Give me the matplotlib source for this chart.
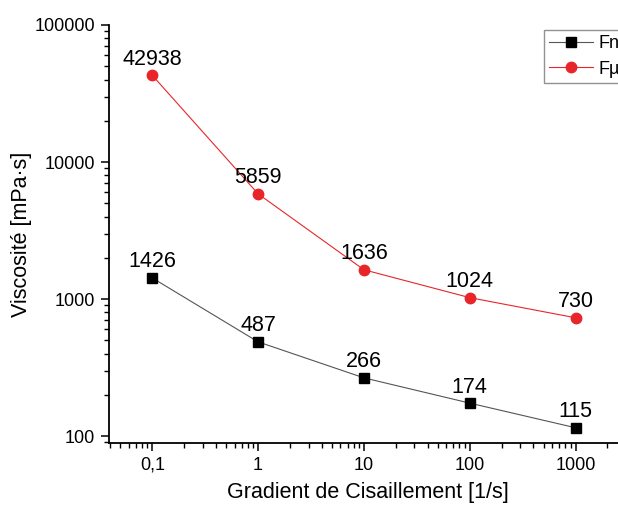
import matplotlib
matplotlib.use("Agg")
import matplotlib.pyplot as plt
from matplotlib.ticker import LogLocator, FixedLocator, FixedFormatter, NullFormatter

plt.rcParams["font.family"] = ["Liberation Sans", "DejaVu Sans"]

# -----------------------------
# DATA
# -----------------------------
shear_rate = [0.1, 1, 10, 100, 1000]
visc_nano = [1426, 487, 266, 174, 115]
visc_micro = [42938, 5859, 1636, 1024, 730]

x_ticks = [0.1, 1, 10, 100, 1000]
x_tick_labels = ["0,1", "1", "10", "100", "1000"]
y_ticks = [100, 1000, 10000, 100000]
y_tick_labels = ["100", "1000", "10000", "100000"]

# -----------------------------
# PLOT
# -----------------------------
fig = plt.figure(figsize=(6.18, 5.05), dpi=100)
ax = fig.add_axes([109 / 618, 62 / 505, 517 / 618, 418 / 505])

ax.plot(shear_rate, visc_nano, color="#555555", lw=0.8, marker="s",
        ms=6.5, mfc="black", mec="black", label="Fn")
ax.plot(shear_rate, visc_micro, color="#e8262a", lw=0.8, marker="o",
        ms=7.5, mfc="#e8262a", mec="#e8262a", label="Fµ")

# value labels above each point
for x, y in zip(shear_rate, visc_nano):
    ax.annotate(str(y), (x, y), xytext=(0, 4), textcoords="offset points",
                ha="center", va="bottom", fontsize=15.5)
for x, y in zip(shear_rate, visc_micro):
    ax.annotate(str(y), (x, y), xytext=(0, 4), textcoords="offset points",
                ha="center", va="bottom", fontsize=15.5)

ax.set_xscale("log")
ax.set_yscale("log")
ax.set_xlim(0.039, 3000)
ax.set_ylim(89, 100000)

ax.xaxis.set_major_locator(FixedLocator(x_ticks))
ax.xaxis.set_major_formatter(FixedFormatter(x_tick_labels))
ax.xaxis.set_minor_locator(LogLocator(base=10, subs=range(2, 10)))
ax.xaxis.set_minor_formatter(NullFormatter())
ax.yaxis.set_major_locator(FixedLocator(y_ticks))
ax.yaxis.set_major_formatter(FixedFormatter(y_tick_labels))
ax.yaxis.set_minor_locator(LogLocator(base=10, subs=range(2, 10)))
ax.yaxis.set_minor_formatter(NullFormatter())

ax.spines["top"].set_visible(False)
ax.spines["right"].set_visible(False)
for s in ("left", "bottom"):
    ax.spines[s].set_linewidth(1.3)

ax.tick_params(which="major", direction="out", length=6, width=1.1,
               labelsize=13, pad=4)
ax.tick_params(which="minor", direction="out", length=3.5, width=1.0)

ax.set_xlabel("Gradient de Cisaillement [1/s]", fontsize=15.5, labelpad=6)
ax.set_ylabel("Viscosité [mPa·s]", fontsize=15.5, labelpad=2)

leg = fig.legend(loc="upper left", bbox_to_anchor=(544 / 618, 1 - 30 / 505),
                 fontsize=13, frameon=True, fancybox=False, borderaxespad=0,
                 handlelength=2.4, handletextpad=0.3, borderpad=0.3,
                 labelspacing=0.45)
leg.get_frame().set_edgecolor("#777777")
leg.get_frame().set_linewidth(1.0)

fig.savefig("out.png", dpi=100)
